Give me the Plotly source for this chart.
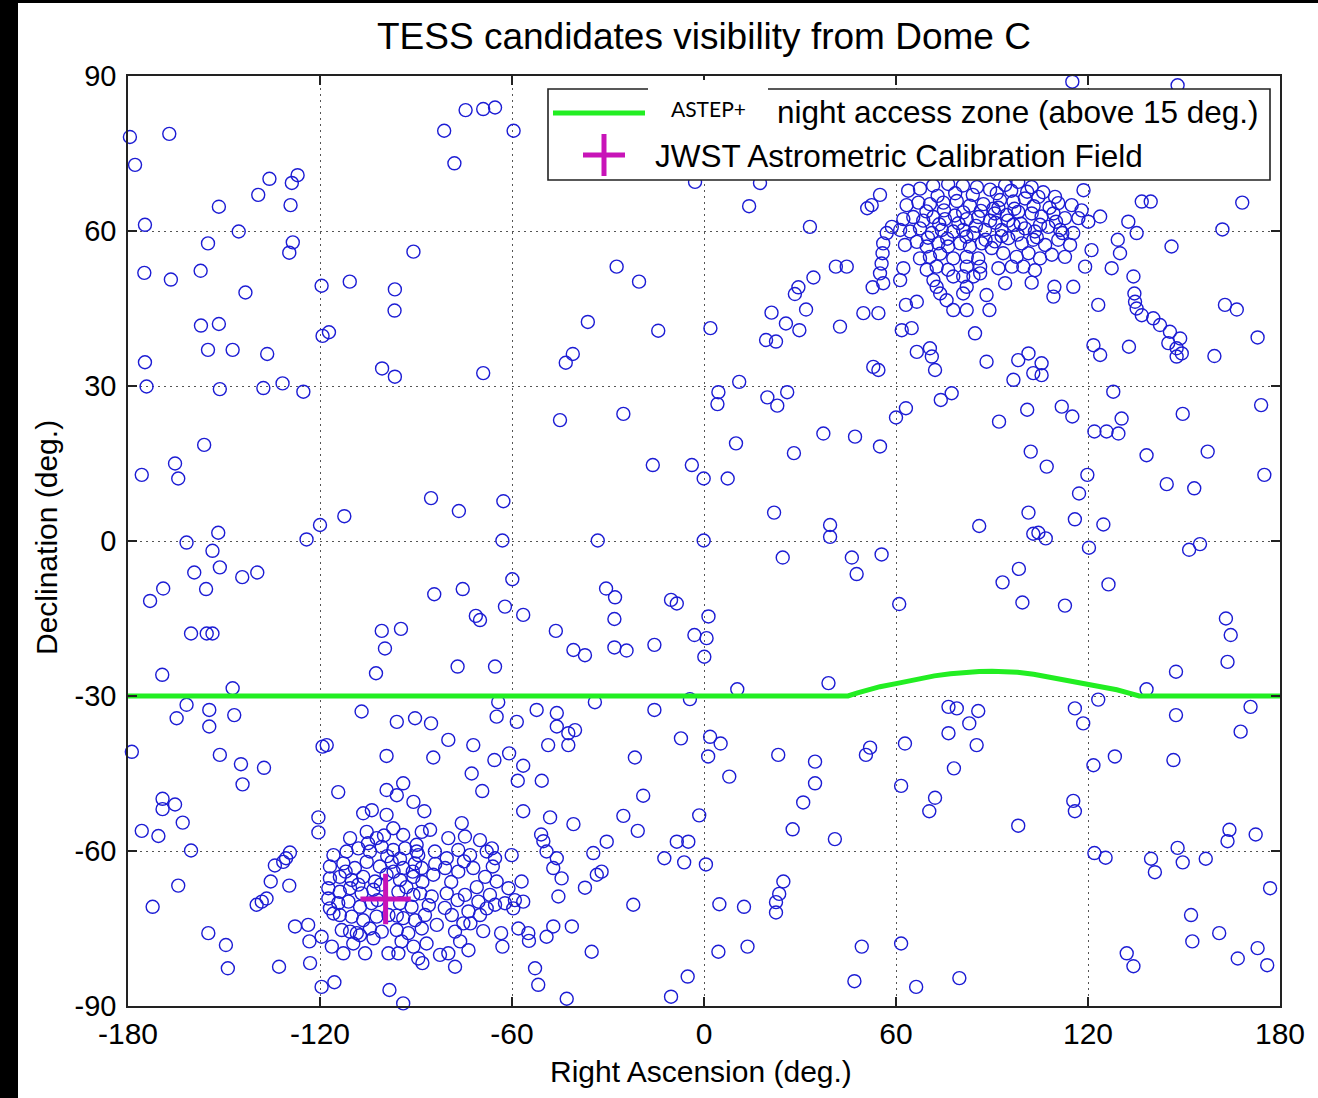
import plotly.graph_objects as go

# ---------------------------------------------------------------------------
# TESS candidate positions (RA, Dec in degrees)
# ---------------------------------------------------------------------------
field_ra = [
    -179.4, -167.1, -177.8, -135.8, -127.0, -128.8, -139.3, -151.6, -129.2, -174.7,
    -145.4, -155.0, -128.5, -129.6, -174.9, -166.6, -157.3, -143.3, -119.5, -110.7,
    -96.6, -96.7, -90.8, -157.2, -151.6, -119.2, -117.2, -155.0, -147.3, -136.5,
    -174.7, -100.6, -96.6, -174.2, -151.3, -137.7, -131.7, -125.2,
    -74.5, -69.0, -65.3, -81.2, -59.5, -78.0, -2.8, -27.3, -20.3, -36.3,
    -14.3, -41.0, -43.2, -69.0,
    17.5, 14.1, 33.1, 51.0, 52.4, 55.0, 41.2, 44.6, 34.2, 29.5,
    28.4, 31.9, 21.1, 25.6, 29.8, 19.4, 22.5, 2.0, 42.5, 49.8,
    54.5, 52.7, 56.0, 55.0, 55.5, 55.8, 56.0, 57.1, 58.7, 52.9,
    54.5, 11.0, 61.8, 64.9, 63.1, 66.5, 61.3, 62.3, 66.5, 70.6,
    71.2, 72.2, 84.7, 88.3, 88.3, 89.2, 82.1, 77.9, 75.8, 73.8,
    72.7, 71.7, 81.0, 82.1, 81.0, 84.2, 86.3, 77.9,
    115.1, 148.0, 118.6, 136.8, 139.6, 168.2, 123.8, 132.6, 135.2, 162.0,
    129.3, 130.0, 146.1, 127.4, 121.1, 119.1, 115.4, 109.5, 109.2, 102.4,
    94.1, 123.2, 134.2, 134.5, 134.7, 135.2, 136.8, 140.4, 142.5, 145.6,
    148.8, 147.7, 149.3, 145.1, 147.7, 162.8, 166.5, 173.0, 159.5, 132.8,
    121.7, 123.8, 105.5, 102.9, 105.5, 101.4, 98.2, 96.7,
    -156.2, -175.7, -165.3, -164.3, -112.4, -120.0, -124.2, -151.8, -161.7, -153.6,
    -151.3, -159.3, -144.3, -139.6, -169.0, -173.1, -155.6, -160.3, -155.4, -153.6,
    -169.3, -147.3, -100.7, -94.7, -99.7, -102.5,
    -45.0, -25.2, -16.0, -3.8, -0.1, -85.3, -76.6, -62.7, -63.0, -33.2,
    -0.1, -59.9, -84.3, -75.4, -62.2, -71.3, -70.0, -56.5, -30.6, -27.8,
    -28.0, -10.3, -8.5, 1.4, -3.0, 0.8, 0.1, -46.3, -40.8, -37.2,
    -28.0, -24.2, -15.5, -77.0, -65.3,
    4.5, 4.2, 19.8, 22.9, 26.0, 10.0, 28.1, 37.3, 47.2, 55.0,
    60.0, 63.1, 74.0, 77.4, 7.4, 21.9, 39.4, 39.4, 24.6, 46.2,
    47.7, 55.5, 86.0, 61.0, 38.9, 10.4,
    127.9, 92.2, 101.0, 111.8, 115.1, 130.5, 122.0, 125.8, 129.5, 149.6,
    174.1, 138.3, 157.4, 175.1, 144.6, 153.2, 102.1, 107.1, 119.8, 117.2,
    101.4, 115.9, 124.8, 102.9, 104.5, 106.8, 120.3, 151.6, 155.0, 98.4,
    93.3, 99.5, 112.8, 126.4, 163.1, 164.6, 163.6, 147.5, 138.3, 123.2,
    -178.8, -164.8, -161.7, -154.6, -154.6, -146.8, -107.0, -96.0, -90.3, -151.3,
    -144.7, -144.2, -137.5, -119.2, -117.9, -99.2, -114.3, -169.2, -169.2, -165.3,
    -162.9, -175.7, -170.5, -160.3, -120.5, -120.5, -164.3, -172.3, -129.4, -130.6,
    -131.5, -134.1, -135.4, -129.6, -139.8, -138.2, -136.7, -154.9, -149.4, -148.8,
    -132.8, -127.8, -123.7, -123.3, -119.5, -123.1, -119.5, -115.5, -98.3, -94.0,
    -64.3, -64.8, -52.3, -46.0, -46.0, -42.4, -40.3, -42.4, -34.1, -15.5,
    -4.4, -7.2, -58.5, -48.7, -60.9, -56.5, -58.2, -50.7, -56.5, -48.1,
    -40.8, -21.6, -19.0, -25.2, -20.7, -1.5, -50.9, -50.2, -49.2, -46.0,
    -47.1, -44.5, -45.5, -30.4, -34.6, -32.0, -33.5, -37.2, -22.1, -12.4,
    -8.5, -4.9, -6.2, -47.1, -49.2, -41.3, -54.9, -54.7, -58.0, -63.4,
    -63.0, -35.1, -52.8, -51.8, -42.9, -5.1, -10.3, -77.8, -82.5, -79.9,
    -88.0, -84.6, -79.9, -72.1, -65.5, -72.6, -69.3, -85.3, -87.4,
    1.9, 5.2, 1.3, 7.9, 23.2, 34.7, 34.7, 31.0, 27.7, 40.9,
    50.6, 51.9, 62.8, 61.6, 72.2, 70.4, 78.1, 76.4, 76.4, 79.0,
    82.9, 85.7, 85.2, 0.6, 4.8, 12.5, 24.8, 23.5, 22.5, 22.5,
    4.5, 13.6, 49.3, 47.0, 61.6, 66.3, 79.8,
    115.9, 118.5, 147.5, 170.8, 167.7, 146.7, 128.4, 121.7, 115.4, 115.9,
    98.2, 164.2, 163.6, 172.4, 148.0, 149.6, 122.0, 125.5, 139.7, 140.9,
    156.8, 176.9, 152.2, 152.6, 161.0, 173.0, 166.8, 176.0, 132.1, 134.2,
]
field_dec = [
    78.2, 78.8, 72.8, 70.1, 70.8, 69.3, 67.0, 64.7, 65.0, 61.2,
    59.9, 57.6, 57.8, 55.8, 51.9, 50.6, 52.3, 48.1, 49.4, 50.2,
    48.7, 44.6, 56.0, 41.7, 42.0, 39.7, 40.4, 37.0, 37.0, 36.2,
    34.6, 33.4, 31.8, 29.9, 29.4, 29.6, 30.5, 28.9,
    83.4, 83.6, 83.9, 79.4, 79.4, 73.1, 69.5, 53.1, 50.2, 42.4,
    40.7, 36.2, 34.5, 32.5,
    69.3, 64.8, 60.8, 64.4, 65.0, 67.0, 53.1, 53.1, 51.0, 49.1,
    47.8, 44.8, 44.2, 42.1, 40.8, 38.9, 38.6, 41.2, 41.5, 44.1,
    44.1, 49.1, 49.9, 51.8, 53.7, 55.7, 57.6, 59.6, 60.8, 33.7,
    33.1, 30.8, 40.8, 41.2, 45.7, 46.3, 50.5, 52.8, 36.6, 37.3,
    35.7, 33.1, 40.2, 34.7, 47.6, 44.7, 44.7, 44.7, 46.6, 47.9,
    49.2, 50.5, 47.9, 49.2, 51.2, 51.2, 51.8, 51.2,
    88.9, 88.2, 67.9, 65.7, 65.7, 65.5, 62.8, 61.8, 59.6, 60.3,
    58.3, 55.7, 57.0, 52.8, 56.3, 53.1, 49.2, 49.2, 47.3, 50.0,
    49.9, 45.7, 51.2, 47.9, 46.3, 45.0, 43.7, 43.1, 41.8, 40.5,
    39.2, 37.3, 36.3, 38.3, 35.7, 45.7, 44.8, 39.4, 35.8, 37.6,
    37.9, 36.0, 34.4, 32.5, 32.1, 36.3, 35.0, 31.2,
    18.6, 12.8, 15.0, 12.1, 4.8, 3.1, 0.3, 1.6, -0.3, -1.9,
    -5.1, -6.1, -7.0, -6.1, -9.2, -11.6, -9.3, -17.9, -17.9, -17.9,
    -25.9, -28.5, -17.4, -17.0, -20.8, -25.6,
    23.4, 24.6, 14.7, 14.7, 12.1, 8.3, 5.8, 7.7, 0.1, 0.1,
    0.1, -7.4, -10.3, -9.3, -12.7, -14.5, -15.3, -14.3, -9.2, -10.9,
    -15.1, -11.4, -12.1, -14.6, -18.2, -18.8, -22.4, -17.4, -21.1, -22.1,
    -20.6, -21.2, -20.1, -24.3, -24.3,
    28.8, 26.5, 27.8, 26.2, 28.8, 18.9, 17.0, 20.8, 20.2, 18.3,
    23.9, 25.7, 27.3, 28.6, 12.1, 5.5, 3.1, 0.8, -3.2, -3.2,
    -6.4, -2.6, 2.9, -12.2, -27.5, -28.7,
    28.9, 23.1, 25.4, 26.0, 24.1, 23.7, 21.2, 21.2, 20.8, 24.6,
    26.3, 16.6, 17.3, 12.8, 11.0, 10.2, 17.3, 14.4, 12.8, 9.2,
    5.5, 4.2, 3.2, 1.4, 1.6, 0.5, -1.3, -1.7, -0.6, -5.4,
    -8.0, -11.9, -12.5, -8.4, -15.0, -18.2, -23.4, -25.3, -28.7, -30.7,
    -40.8, -34.3, -31.7, -32.7, -35.9, -33.7, -33.0, -35.0, -34.3, -41.4,
    -43.2, -47.1, -43.9, -39.8, -39.5, -41.6, -48.6, -49.9, -51.9, -51.0,
    -54.5, -56.1, -57.1, -59.9, -53.5, -56.4, -66.7, -70.8, -60.3, -61.4,
    -62.1, -62.8, -65.9, -66.7, -70.4, -69.8, -69.2, -75.9, -78.2, -82.7,
    -82.4, -74.6, -74.3, -77.5, -76.6, -81.7, -86.3, -85.4, -86.9, -89.5,
    -31.2, -34.0, -32.7, -33.3, -35.9, -37.2, -36.6, -39.5, -31.2, -32.7,
    -30.6, -38.2, -35.0, -39.5, -41.1, -43.5, -46.4, -46.4, -52.3, -53.5,
    -54.8, -41.9, -49.3, -53.2, -56.1, -53.1, -56.8, -58.1, -60.1, -61.4,
    -63.3, -65.3, -68.8, -58.2, -60.4, -64.0, -64.6, -67.1, -70.4, -61.4,
    -58.2, -58.2, -62.2, -74.6, -76.6, -74.6, -75.9, -77.4, -75.0, -75.9,
    -78.5, -79.5, -82.7, -85.9, -88.6, -84.3, -88.2, -82.4, -80.1, -79.8,
    -81.7, -41.9, -38.5, -39.5, -42.4, -45.0, -48.4, -35.3, -52.3,
    -37.9, -39.2, -41.7, -45.6, -41.4, -42.7, -46.9, -50.6, -55.8, -57.7,
    -41.4, -40.0, -39.2, -47.4, -49.7, -52.3, -44.0, -37.2, -32.1, -32.4,
    -35.3, -32.9, -39.5, -62.6, -70.3, -70.8, -65.9, -68.3, -69.9, -71.9,
    -79.5, -78.5, -78.5, -85.2, -77.9, -86.3, -84.6,
    -32.4, -35.3, -33.7, -32.1, -36.9, -42.4, -41.7, -43.4, -50.3, -52.3,
    -55.1, -55.9, -58.1, -56.8, -59.4, -62.2, -60.4, -61.3, -61.5, -64.1,
    -61.5, -67.2, -72.4, -77.5, -75.9, -78.8, -80.8, -82.1, -79.8, -82.3,
]

# Dense group of candidates in the northern sky (around RA 60..120)
north_ra = [
    63.8, 67.5, 71.6, 76.3, 80.9, 85.3, 89.4,
    63.3, 67.0, 70.6, 74.8, 79.0, 83.1, 87.3, 90.4,
    62.3, 65.4, 68.5, 71.7, 75.3, 78.4, 82.1, 85.7, 89.4,
    61.3, 64.4, 67.5, 71.2, 74.3, 77.9, 81.0, 84.2, 87.8,
    62.8, 66.5, 69.6, 73.2, 76.3, 80.0, 83.1, 86.8, 89.9,
    67.5, 70.6, 73.8, 77.9, 82.1, 85.7,
    69.6, 72.7, 76.3, 82.1, 86.3,
    94.1, 98.2, 102.4, 106.0, 109.7,
    92.5, 96.7, 100.3, 104.5, 110.7, 114.9, 118.0,
    90.9, 94.6, 98.2, 102.4, 105.5, 109.2, 112.8, 117.0, 120.1,
    93.0, 96.7, 100.3, 103.4, 107.6, 111.3, 115.4,
    90.9, 95.1, 99.3, 102.9, 106.6, 110.7, 114.4,
    93.5, 97.7, 101.4, 105.0, 108.7, 112.8,
    92.0, 96.2, 99.8, 103.4,
    73.0, 78.5, 84.0, 91.5, 96.0, 101.0,
    69.5, 75.0, 81.0, 86.5, 92.0, 97.0, 103.0, 108.0,
    73.5, 79.5, 85.0, 91.0, 95.0, 99.0, 105.0, 110.0,
    70.0, 76.0, 82.0, 88.0, 93.0, 98.0, 104.0, 112.0,
]
north_dec = [
    67.8, 68.2, 68.8, 69.1, 68.8, 68.5, 68.0,
    65.0, 65.5, 65.2, 65.5, 65.8, 64.9, 65.2, 64.3,
    62.3, 62.7, 62.0, 62.7, 62.3, 63.0, 62.3, 62.7, 62.0,
    60.2, 59.9, 60.5, 59.6, 60.2, 59.9, 60.2, 59.6, 60.2,
    57.3, 57.9, 57.0, 57.6, 57.0, 57.6, 57.0, 57.6, 56.7,
    54.7, 55.0, 55.6, 54.7, 55.0, 54.7,
    52.5, 53.1, 52.5, 53.1, 53.1,
    68.9, 69.5, 68.5, 67.5, 66.6,
    66.0, 65.7, 66.3, 66.6, 65.4, 65.0, 64.0,
    63.4, 63.1, 63.7, 63.4, 62.8, 63.4, 62.5, 62.5, 61.8,
    60.2, 61.2, 60.5, 59.9, 60.8, 60.2, 59.6,
    58.0, 58.6, 57.6, 58.3, 57.3, 58.3, 57.3,
    55.7, 55.0, 55.7, 54.7, 55.4, 55.0,
    52.8, 53.1, 53.1, 52.4,
    66.8, 67.3, 67.0, 67.3, 67.8, 67.6,
    63.8, 64.0, 63.6, 63.9, 64.5, 64.3, 64.8, 64.5,
    61.3, 61.5, 61.0, 61.6, 62.0, 61.4, 61.2, 61.8,
    58.7, 58.5, 58.9, 58.3, 59.0, 59.3, 58.8, 59.6,
]

# Dense group of candidates in the southern sky (around RA -120..-55)
south_ra = [
    -99.2, -94.0, -96.0, -90.8, -106.5, -103.8, -99.2, -110.6, -105.4,
    -98.6, -95.5, -105.9, -112.7, -116.3, -109.6, -103.3, -113.2, -110.6, -107.5, -104.4,
    -97.1, -102.3, -94.0, -89.8,
    -115.8, -111.7, -108.0, -104.4, -100.7, -97.1, -93.4, -89.8,
    -112.7, -109.1, -105.4, -101.3, -97.6, -94.0, -90.3,
    -113.8, -110.1, -106.5, -102.8, -99.2, -95.0, -90.8,
    -113.8, -110.6, -107.0, -103.3, -95.5, -90.8,
    -114.3, -111.1, -107.5, -103.9, -95.0, -91.4,
    -113.8, -110.1, -106.5, -102.3, -98.6, -94.0, -90.3,
    -108.5, -100.7, -96.0, -92.4, -94.5, -90.8,
    -116.9, -116.9, -117.4, -117.4, -116.9, -115.8,
    -75.7, -85.6, -79.9, -88.2, -70.0, -66.3, -74.7,
    -89.3, -84.1, -80.4, -76.8, -73.1, -67.9, -65.3, -60.1,
    -88.2, -84.6, -80.9, -76.8, -72.1, -68.4, -64.8, -61.1, -57.0,
    -88.7, -85.1, -80.4, -74.7, -70.5, -66.9, -62.2, -59.1, -56.5, -59.6,
    -87.2, -83.5, -78.8, -75.2, -73.6, -70.0, -67.9, -65.3,
    -88.2, -86.7, -77.8, -76.2, -73.6, -89.3,
    -101.0, -97.0, -93.0, -88.0, -84.0, -79.0, -75.0, -71.0, -66.0, -99.0,
    -95.0, -91.0, -86.0, -81.0, -77.0, -73.0, -69.0, -96.0, -102.0, -108.0,
    -112.0, -105.0, -100.0,
]
south_dec = [
    -48.2, -46.9, -49.2, -50.5, -52.7, -52.1, -53.0, -57.5, -56.3,
    -79.8, -79.8, -79.8, -79.8, -78.5, -77.9, -76.9, -75.3, -75.6, -76.3, -75.0,
    -55.6, -57.5, -56.9, -58.8,
    -60.8, -60.1, -59.5, -60.1, -59.2, -59.8, -59.5, -60.1,
    -62.4, -63.3, -62.1, -63.0, -62.1, -63.3, -62.4,
    -65.0, -65.6, -65.0, -65.9, -64.6, -65.6, -65.0,
    -67.9, -67.2, -68.2, -67.5, -67.9, -68.5,
    -70.1, -69.8, -70.8, -70.1, -70.1, -70.8,
    -72.4, -72.7, -73.4, -72.7, -72.4, -73.0, -73.4,
    -75.9, -75.6, -75.3, -75.9, -77.5, -78.5,
    -63.0, -65.3, -67.2, -69.2, -71.1, -72.1,
    -54.6, -55.9, -57.5, -56.3, -57.9, -59.5, -57.2,
    -60.8, -60.1, -61.4, -59.8, -60.8, -60.1, -61.4, -60.8,
    -63.3, -64.6, -63.3, -64.0, -63.3, -65.0, -65.9, -67.2, -65.9,
    -68.2, -68.8, -68.2, -68.5, -69.8, -68.5, -70.1, -69.5, -69.8, -71.1,
    -72.4, -74.3, -72.4, -74.0, -71.7, -72.4, -71.1, -70.4,
    -75.0, -77.9, -75.6, -77.5, -79.2, -80.8,
    -66.5, -64.0, -67.0, -66.0, -62.5, -66.0, -62.0, -67.0, -63.0, -61.0,
    -61.5, -64.0, -70.5, -71.0, -69.5, -74.0, -75.5, -72.5, -69.5, -66.5,
    -64.0, -58.5, -57.0,
]

cand_ra = field_ra + north_ra + south_ra
cand_dec = field_dec + north_dec + south_dec

# Lower limit of the ASTEP+ night access zone (targets above 15 deg. elevation)
access_ra = [-180, 45, 48, 51, 55, 60, 66, 72, 77, 82, 86, 90, 94, 98, 103, 109,
             114, 119, 124, 129, 132, 136, 180]
access_dec = [-30.0, -30.0, -29.4, -28.8, -28.2, -27.6, -26.8, -26.1, -25.7, -25.4,
              -25.25, -25.2, -25.25, -25.4, -25.8, -26.5, -27.0, -27.5, -28.1,
              -28.8, -29.3, -30.0, -30.0]

# JWST astrometric calibration field
jwst_ra = [-99.5]
jwst_dec = [-69.3]

x_ticks = [-180, -120, -60, 0, 60, 120, 180]
x_tick_text = ["-180", "-120", "-60", "0", "60", "120", "180"]
y_ticks = [-90, -60, -30, 0, 30, 60, 90]
y_tick_text = ["-90", "-60", "-30", "0", "30", "60", "90"]

# ---------------------------------------------------------------------------
W, H = 1318, 1098
L, R, T, B = 128, 1280, 76, 1006   # plot-area edges in pixels


def px(x):
    return (x - L) / (R - L)


def py(y):
    return (B - y) / (B - T)


FONT = "Liberation Sans, Arial, Helvetica, sans-serif"
BLUE = "#1c1cd4"
GREEN = "#22ee22"
MAGENTA = "#c814b8"

fig = go.Figure()
fig.add_trace(go.Scatter(
    x=cand_ra, y=cand_dec, mode="markers",
    marker=dict(symbol="circle-open", size=13, color=BLUE,
                line=dict(width=1.4, color=BLUE)),
    cliponaxis=False, hoverinfo="x+y"))
fig.add_trace(go.Scatter(
    x=access_ra, y=access_dec, mode="lines",
    line=dict(color=GREEN, width=5)))
fig.add_trace(go.Scatter(
    x=jwst_ra, y=jwst_dec, mode="markers",
    marker=dict(symbol="cross-thin", size=36,
                line=dict(width=5, color=MAGENTA))))

axis_common = dict(
    showgrid=True, gridcolor="#555555", gridwidth=1.3, griddash="2px,4px",
    zeroline=False, showline=True, linecolor="#222222", linewidth=1.6,
    mirror="ticks", ticks="inside", ticklen=9, tickwidth=1.6, tickcolor="#222222",
)
fig.update_xaxes(range=[-180, 180], tickvals=x_ticks, ticktext=x_tick_text,
                 ticklabelstandoff=0,
                 tickfont=dict(family=FONT, size=30, color="black"), **axis_common)
fig.update_yaxes(range=[-90, 90], tickvals=y_ticks, ticktext=y_tick_text,
                 ticklabelstandoff=4,
                 tickfont=dict(family=FONT, size=29, color="black"), **axis_common)

shapes = [
    # dark frame strips
    dict(type="rect", xref="paper", yref="paper", x0=px(0), x1=px(18), y0=py(H), y1=py(0),
         fillcolor="black", line=dict(width=0), layer="above"),
    dict(type="rect", xref="paper", yref="paper", x0=px(0), x1=px(W), y0=py(3), y1=py(0),
         fillcolor="black", line=dict(width=0), layer="above"),
    # legend box
    dict(type="rect", xref="paper", yref="paper", x0=px(548), x1=px(1270), y0=py(180), y1=py(89),
         fillcolor="white", line=dict(color="#222222", width=1.6), layer="above"),
    dict(type="line", xref="paper", yref="paper", x0=px(553), x1=px(645), y0=py(113), y1=py(113),
         line=dict(color=GREEN, width=5), layer="above"),
    dict(type="line", xref="paper", yref="paper", x0=px(583), x1=px(625), y0=py(155), y1=py(155),
         line=dict(color=MAGENTA, width=5), layer="above"),
    dict(type="line", xref="paper", yref="paper", x0=px(604), x1=px(604), y0=py(176), y1=py(134),
         line=dict(color=MAGENTA, width=5), layer="above"),
    # label patch
    dict(type="rect", xref="paper", yref="paper", x0=px(648), x1=px(768), y0=py(132), y1=py(80),
         fillcolor="white", line=dict(width=0), layer="above"),
]

annotations = [
    dict(text="TESS candidates visibility from Dome C", x=0.5, y=py(37), xref="paper", yref="paper",
         xanchor="center", yanchor="middle", showarrow=False,
         font=dict(family=FONT, size=37, color="black")),
    dict(text="Right Ascension (deg.)", x=px(701), y=py(1071), xref="paper", yref="paper",
         xanchor="center", yanchor="middle", showarrow=False,
         font=dict(family=FONT, size=30, color="black")),
    dict(text="Declination (deg.)", x=px(46), y=py(538), xref="paper", yref="paper",
         xanchor="center", yanchor="middle", showarrow=False, textangle=-90,
         font=dict(family=FONT, size=30, color="black")),
    dict(text="night access zone (above 15 deg.)", x=px(775), y=py(112), xref="paper", yref="paper",
         xanchor="left", yanchor="middle", showarrow=False,
         font=dict(family=FONT, size=31.5, color="black")),
    dict(text="JWST Astrometric Calibration Field", x=px(653), y=py(156), xref="paper", yref="paper",
         xanchor="left", yanchor="middle", showarrow=False,
         font=dict(family=FONT, size=31.5, color="black")),
    dict(text="ASTEP+", x=px(708), y=py(108), xref="paper", yref="paper",
         xanchor="center", yanchor="middle", showarrow=False,
         font=dict(family="Lato, Open Sans, sans-serif", size=21, color="black")),
]

fig.update_layout(
    width=W, height=H,
    margin=dict(l=L, r=W - R, t=T, b=H - B),
    paper_bgcolor="white", plot_bgcolor="white",
    showlegend=False,
    shapes=shapes, annotations=annotations,
)

fig.write_html("out.html")
